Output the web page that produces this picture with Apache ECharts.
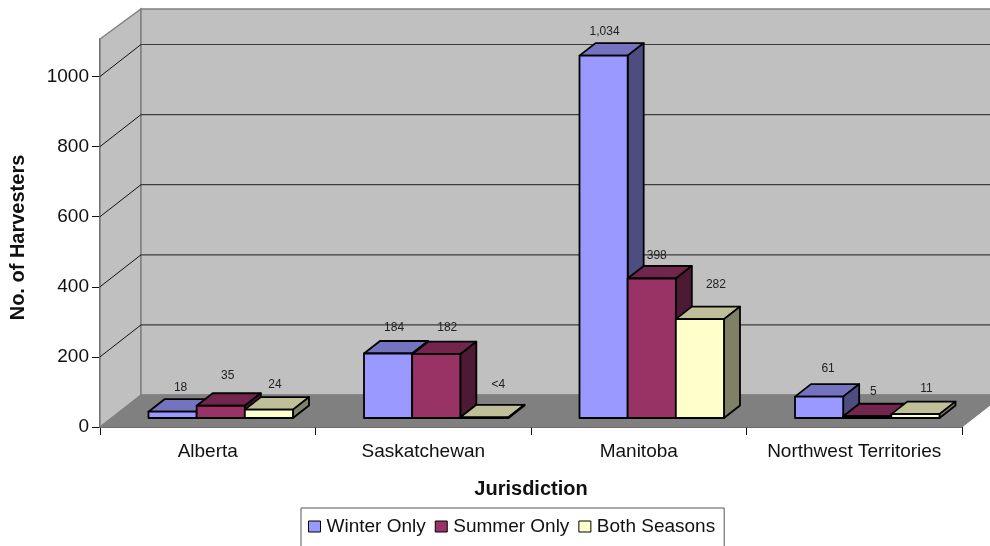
<!DOCTYPE html>
<html><head><meta charset="utf-8">
<style>html,body{margin:0;padding:0;background:#fff}#c{width:990px;height:546px}</style>
<script src="https://cdn.jsdelivr.net/npm/echarts@6/dist/echarts.min.js"></script>
</head><body><div id="c"></div>
<script>
const categories = ['Alberta','Saskatchewan','Manitoba','Northwest Territories'];
const winterOnly = [18,184,1034,61];
const summerOnly = [35,182,398,5];
const bothSeasons = [24,2,282,11];
const winterLabels = ['18','184','1,034','61'];
const summerLabels = ['35','182','398','5'];
const bothLabels = ['24','<4','282','11'];
const yTicks = [0,200,400,600,800,1000];
const gridValues = [200,400,600,800,1000];

// Placement of the hand-moved data labels, relative to the bar's front top centre.
const winterNudge = [[9,-24],[7,-26],[2,-24],[10,-28]];
const summerNudge = [[8,-30],[12,-27],[6,-23],[7,-25]];
const bothNudge = [[7,-25],[15,-33],[17,-34],[12,-25]];

const FONT = '"Liberation Sans", Arial, sans-serif';
const WALL_DX = 41, WALL_DY = 32, TOP_DY = 30;
const BAR_SHIFT_X = 13, BAR_SHIFT_Y = 9, BAR_DX = 16, BAR_DY = 12.5, BAR_FRAC = 0.2235;

function wallsItem(params, api){
  const cs = params.coordSys;
  const L = cs.x, R = cs.x + cs.width, T = cs.y, B = cs.y + cs.height;
  const wall = {fill:'#C0C0C0', stroke:'#808080', lineWidth:1.5};
  const kids = [
    {type:'polygon', shape:{points:[[L,T],[L+WALL_DX,T-TOP_DY],[L+WALL_DX,B-WALL_DY],[L,B]]}, style:wall},
    {type:'polygon', shape:{points:[[L+WALL_DX,T-TOP_DY],[R+WALL_DX,T-TOP_DY],[R+WALL_DX,B-WALL_DY],[L+WALL_DX,B-WALL_DY]]}, style:wall},
    {type:'polygon', shape:{points:[[L,B],[L+WALL_DX,B-WALL_DY],[R+WALL_DX,B-WALL_DY],[R,B]]}, style:{fill:'#808080', stroke:'#808080', lineWidth:1}}
  ];
  gridValues.forEach(v=>{
    const y = api.coord([0,v])[1];
    kids.push({type:'line', shape:{x1:L,y1:y,x2:L+WALL_DX,y2:y-WALL_DY}, style:{stroke:'#111', lineWidth:1}});
    kids.push({type:'line', shape:{x1:L+WALL_DX,y1:y-WALL_DY,x2:R+WALL_DX,y2:y-WALL_DY}, style:{stroke:'#3c3c3c', lineWidth:1.2}});
  });
  return {type:'group', children:kids};
}

function barSeries(name, values, labels, nudges, front, top, side, order){
  return {
    name, type:'custom', coordinateSystem:'cartesian2d', z:3,
    itemStyle:{color:front, borderColor:'#000', borderWidth:1},
    encode:{x:0,y:1},
    data: values.map((v,i)=>[i,v]),
    renderItem(params, api){
      const i = api.value(0), v = api.value(1);
      const band = api.size([1,0])[0], w = band*BAR_FRAC;
      const base = api.coord([i,0]), tp = api.coord([i,v]);
      const x0 = base[0] + BAR_SHIFT_X + (order-1.5)*w, x1 = x0 + w;
      const y0 = base[1] - BAR_SHIFT_Y, y1 = tp[1] - BAR_SHIFT_Y;
      const s = {stroke:'#000', lineWidth:1.8, lineJoin:'round'};
      const n = nudges[i];
      return {type:'group', children:[
        {type:'polygon', shape:{points:[[x0,y1],[x1,y1],[x1+BAR_DX,y1-BAR_DY],[x0+BAR_DX,y1-BAR_DY]]}, style:{...s, fill:top}},
        {type:'polygon', shape:{points:[[x1,y0],[x1,y1],[x1+BAR_DX,y1-BAR_DY],[x1+BAR_DX,y0-BAR_DY]]}, style:{...s, fill:side}},
        {type:'polygon', shape:{points:[[x0,y0],[x1,y0],[x1,y1],[x0,y1]]}, style:{...s, fill:front}},
        {type:'text', z2:50, style:{text:labels[i], x:(x0+x1)/2+n[0]-1, y:y1+n[1], align:'center', verticalAlign:'middle', font:'12px '+FONT, fill:'#222'}}
      ]};
    }
  };
}

const chart = echarts.init(document.getElementById('c'), null, {renderer:'canvas'});
chart.setOption({
  animation:false,
  backgroundColor:'#fff',
  grid:{left:100, right:28, top:39, height:388, containLabel:false, outerBoundsMode:'none'},
  legend:{
    left:301, top:508, orient:'horizontal', padding:[9,9,22,7],
    borderColor:'#555', borderWidth:1, backgroundColor:'#fff',
    itemWidth:12, itemHeight:11, itemGap:9,
    icon:'rect', selectedMode:false,
    itemStyle:{borderColor:'#000', borderWidth:1},
    textStyle:{fontFamily:FONT, fontSize:19, color:'#111', padding:[0,0,0,1]},
    data:['Winter Only','Summer Only','Both Seasons']
  },
  xAxis:{
    type:'category', data:categories, boundaryGap:true,
    name:'Jurisdiction', nameLocation:'middle', nameGap:52,
    nameTextStyle:{fontFamily:FONT, fontSize:20, fontWeight:'bold', color:'#111'},
    axisLine:{lineStyle:{color:'#222', width:1.5}},
    axisTick:{show:true, length:8, alignWithLabel:false, lineStyle:{color:'#111', width:1}},
    axisLabel:{fontFamily:FONT, fontSize:19, color:'#111', margin:15, interval:0}
  },
  yAxis:{
    type:'value', min:0, max:1107,
    name:'No. of Harvesters', nameLocation:'middle', nameGap:72, nameRotate:90,
    nameTextStyle:{fontFamily:FONT, fontSize:20, fontWeight:'bold', color:'#111', padding:[0,9,0,0]},
    splitLine:{show:false},
    axisLine:{show:true, lineStyle:{color:'#111', width:1.5}},
    axisTick:{show:true, length:8, customValues:yTicks, lineStyle:{color:'#111', width:1}},
    axisLabel:{fontFamily:FONT, fontSize:19, color:'#111', margin:11, customValues:yTicks, formatter:v=>String(v)}
  },
  series:[
    {name:'walls', type:'custom', coordinateSystem:'cartesian2d', z:1, silent:true, data:[[0,0]], encode:{x:0,y:1}, renderItem:wallsItem},
    barSeries('Winter Only', winterOnly, winterLabels, winterNudge, '#9999FF','#7373BF','#4D4D80',0),
    barSeries('Summer Only', summerOnly, summerLabels, summerNudge, '#993366','#73264D','#4D1A33',1),
    barSeries('Both Seasons', bothSeasons, bothLabels, bothNudge, '#FFFFCC','#BFBF99','#808066',2)
  ]
});
</script></body></html>
